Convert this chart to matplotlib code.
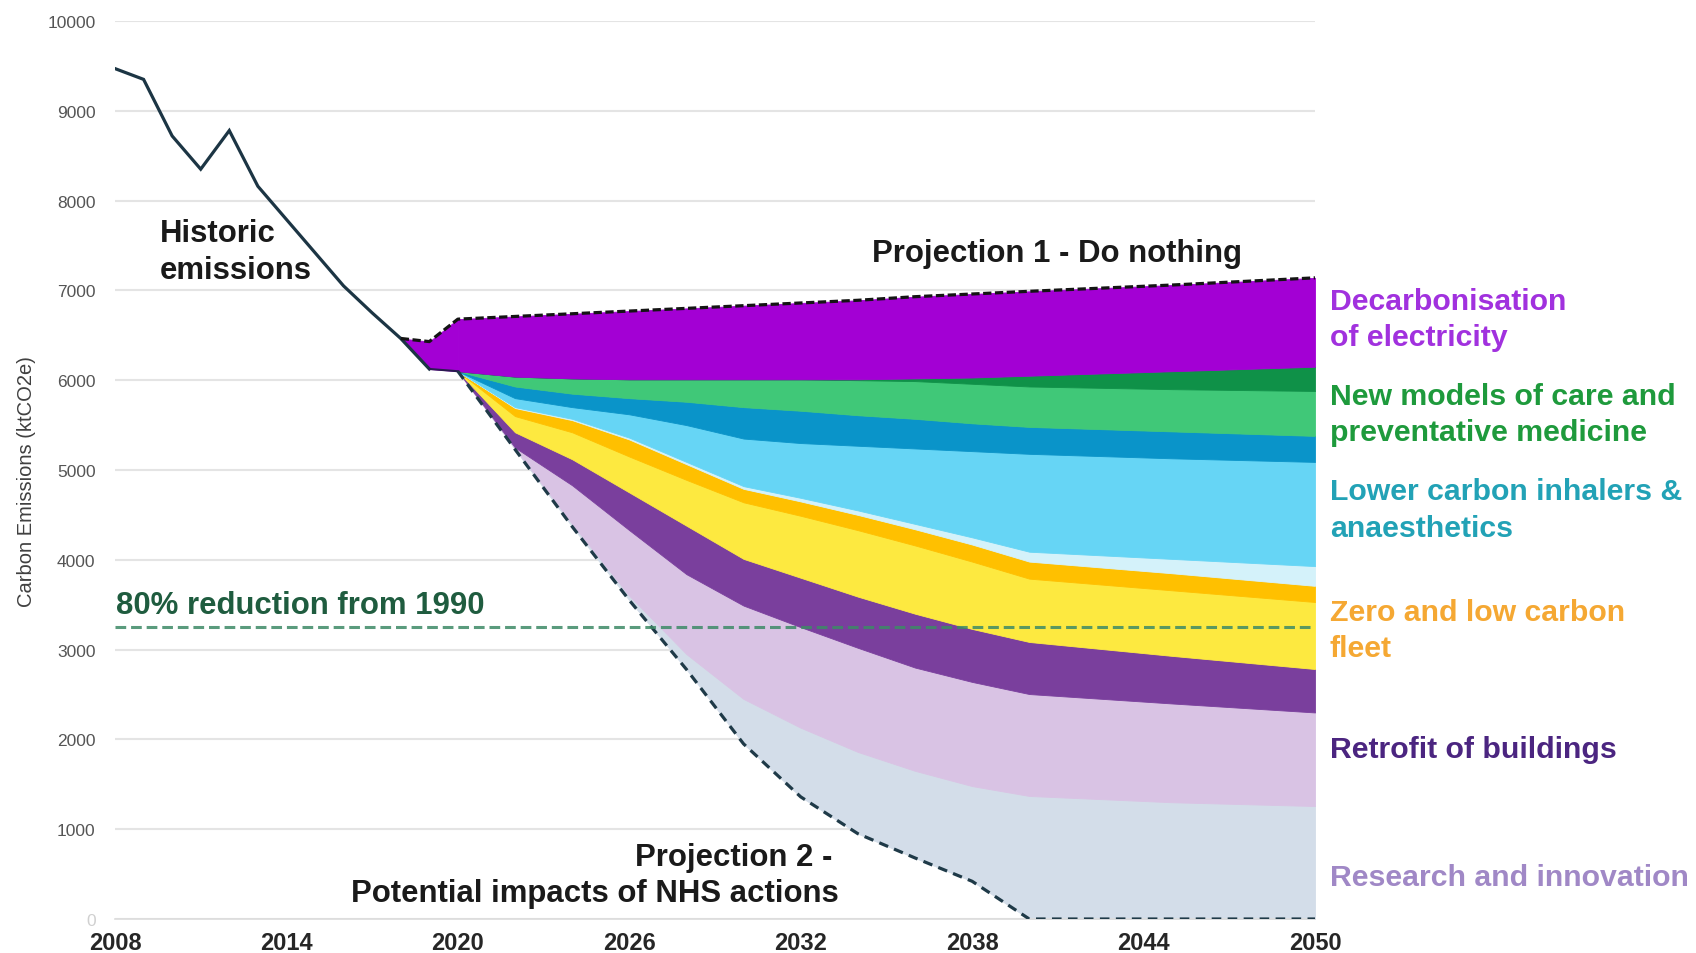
import matplotlib
matplotlib.use('Agg')
import matplotlib.pyplot as plt

plt.rcParams['font.family'] = ['Liberation Sans', 'DejaVu Sans']

# ---------------- data ----------------
hist_years = [2008, 2009, 2010, 2011, 2012, 2013, 2014, 2015, 2016, 2017, 2018, 2019]
hist_vals = [9470, 9350, 8720, 8350, 8780, 8160, 7790, 7420, 7050, 6750, 6465, 6125]

pre_years = [2018, 2019, 2020]
pre_top = [6465, 6430, 6680]
pre_bottom = [6465, 6125, 6100]

proj_years = [2020, 2022, 2024, 2026, 2028, 2030, 2032, 2034, 2036, 2038, 2040, 2045, 2050]
do_nothing = [6680, 6710, 6740, 6770, 6800, 6830, 6860, 6890, 6930, 6960, 6990, 7060, 7140]
b_decarb = [6100, 6040, 6020, 6010, 6010, 6010, 6010, 6010, 6020, 6030, 6050, 6100, 6150]
b_darkgreen = [6100, 6040, 6020, 6010, 6010, 6010, 6010, 6000, 5990, 5960, 5930, 5900, 5880]
b_green = [6100, 5930, 5850, 5800, 5760, 5700, 5660, 5610, 5570, 5520, 5480, 5430, 5380]
b_darkblue = [6100, 5800, 5700, 5620, 5500, 5350, 5300, 5270, 5240, 5210, 5180, 5130, 5090]
b_lightblue = [6100, 5700, 5570, 5360, 5090, 4820, 4690, 4550, 4400, 4250, 4090, 4010, 3930]
b_pale = [6100, 5690, 5555, 5340, 5065, 4790, 4650, 4500, 4340, 4170, 3980, 3850, 3710]
b_orange = [6100, 5600, 5420, 5150, 4890, 4640, 4490, 4330, 4160, 3980, 3790, 3660, 3530]
b_yellow = [6100, 5420, 5120, 4750, 4380, 4010, 3800, 3590, 3400, 3230, 3085, 2930, 2784]
b_retrofit = [6100, 5250, 4830, 4330, 3840, 3490, 3250, 3020, 2800, 2640, 2505, 2400, 2300]
b_lilac = [6100, 5240, 4400, 3600, 2950, 2450, 2130, 1860, 1650, 1480, 1370, 1300, 1258]
proj2 = [6100, 5230, 4370, 3550, 2780, 1950, 1360, 950, 680, 420, 0, 0, 0]

target_80 = 3250

band_colors = ['#d3dde9', '#d9c3e4', '#7a3f9d', '#fde940', '#ffc000', '#d4f2fa',
               '#66d5f5', '#0a94c9', '#40c878', '#0f9148', '#a300d4']

y_ticks = list(range(0, 10001, 1000))
x_ticks = list(range(2008, 2051, 6))

right_labels = [
    (['Decarbonisation', 'of electricity'], '#a131de', [310, 346]),
    (['New models of care and', 'preventative medicine'], '#1e9a3c', [405, 441]),
    (['Lower carbon inhalers &', 'anaesthetics'], '#22a2b6', [500, 537]),
    (['Zero and low carbon', 'fleet'], '#f5a833', [621, 657]),
    (['Retrofit of buildings'], '#4b2580', [758]),
    (['Research and innovation'], '#a088c6', [886]),
]

# ---------------- figure ----------------
W, H = 1696, 954
fig = plt.figure(figsize=(W / 100, H / 100), dpi=100)
ax = fig.add_axes([115 / W, 1 - 920 / H, 1200 / W, 898 / H])
ax.set_xlim(2008, 2050)
ax.set_ylim(0, 10000)


def val(ypx):
    return (920 - ypx) / 0.0898


def yr(xpx):
    return 2008 + (xpx - 115) / (1200 / 42)


# stacked bands
bounds = [proj2, b_lilac, b_retrofit, b_yellow, b_orange, b_pale, b_lightblue,
          b_darkblue, b_green, b_darkgreen, b_decarb, do_nothing]
for i, c in enumerate(band_colors):
    ax.fill_between(proj_years, bounds[i], bounds[i + 1], color=c, lw=0.6,
                    edgecolor=c, zorder=2)
ax.fill_between(pre_years, pre_bottom, pre_top, color='#a300d4', lw=0.6,
                edgecolor='#a300d4', zorder=2)

# lines
ax.plot(hist_years, hist_vals, color='#1c3544', lw=2.3, zorder=4,
        solid_joinstyle='miter')
ax.plot([2019, 2020], [6125, 6100], color='#2a1a50', lw=1.5, zorder=4)
ax.plot(pre_years[:2] + proj_years, pre_top[:2] + do_nothing, color='#141414',
        lw=2.3, dashes=(2.6, 1.1), zorder=5)
ax.plot(proj_years, proj2, color='#1f3a48', lw=2.3, dashes=(3.0, 2.0), zorder=5)
ax.plot([2008, 2050], [target_80, target_80], color='#3d8a66', lw=2.2,
        dashes=(3.5, 1.6), alpha=0.85, zorder=5)

# axes styling
ax.set_yticks(y_ticks)
ax.set_xticks(x_ticks)
ax.grid(axis='y', color='#e4e4e4', lw=1.5, zorder=0)
ax.set_axisbelow(True)
for s in ['top', 'right', 'left']:
    ax.spines[s].set_visible(False)
ax.spines['bottom'].set_color('#dcdcdc')
ax.spines['bottom'].set_linewidth(1.2)
ax.tick_params(axis='both', length=0)
ax.tick_params(axis='y', labelsize=12.5, labelcolor='#555555', pad=14)
ax.tick_params(axis='x', labelsize=17, labelcolor='#262626', pad=9)
for lab in ax.get_xticklabels():
    lab.set_fontweight('bold')
ax.get_yticklabels()[0].set_color('#d0d0d0')
ax.set_ylabel('Carbon Emissions (ktCO2e)', fontsize=14.5, color='#404040')
ax.yaxis.set_label_coords(-0.066, 0.488)

# annotations
fs = 22.4
fr = 21.8
ax.text(yr(160), val(242), 'Historic', fontsize=fs, fontweight='bold', color='#1a1a1a', va='baseline')
ax.text(yr(160), val(279), 'emissions', fontsize=fs, fontweight='bold', color='#1a1a1a', va='baseline')
ax.text(yr(1057), val(262), 'Projection 1 - Do nothing', fontsize=fs, fontweight='bold',
        color='#1a1a1a', ha='center', va='baseline')
ax.text(yr(116), val(614), '80% reduction from 1990', fontsize=fs, fontweight='bold',
        color='#1f5c3f', va='baseline')
ax.text(yr(832), val(866), 'Projection 2 -', fontsize=fs, fontweight='bold',
        color='#1a1a1a', ha='right', va='baseline')
ax.text(yr(839), val(902), 'Potential impacts of NHS actions', fontsize=fs, fontweight='bold',
        color='#1a1a1a', ha='right', va='baseline')

for lines, col, ys in right_labels:
    for line, ypx in zip(lines, ys):
        ax.text(yr(1330), val(ypx), line, fontsize=fr, fontweight='bold', color=col,
                va='baseline', ha='left', clip_on=False)

fig.savefig('out.png', dpi=100)
